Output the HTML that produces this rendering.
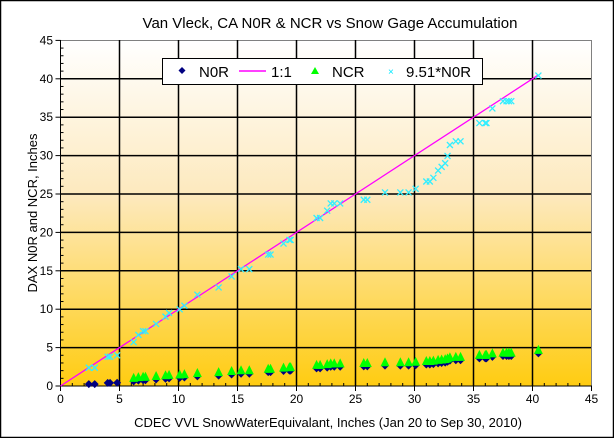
<!DOCTYPE html>
<html><head><meta charset="utf-8"><style>
html,body{margin:0;padding:0;background:#fff}
svg{display:block;font-family:"Liberation Sans",Arial,sans-serif}
</style></head><body>
<svg id="s" width="614" height="438" viewBox="0 0 614 438" xmlns="http://www.w3.org/2000/svg">
<defs>
<linearGradient id="g" x1="0" y1="0" x2="0" y2="1">
<stop offset="0" stop-color="#ffffff"/>
<stop offset="0.45" stop-color="#fde9bd"/>
<stop offset="1" stop-color="#ffcc11"/>
</linearGradient>
</defs>
<rect x="0.5" y="0.5" width="613" height="437" fill="#fff" stroke="#000" stroke-width="1.5"/>
<rect x="60.5" y="40.5" width="531" height="345.5" fill="url(#g)" stroke="#808080"/>
<g id="grid" stroke="#000" stroke-width="1.5"></g>
<g id="ticks" stroke="#000" stroke-width="1"></g>
<line x1="60.5" y1="40" x2="60.5" y2="386" stroke="#000"/>
<line x1="60" y1="386" x2="592" y2="386" stroke="#000"/>
<g id="data"></g>
<g id="labels" font-size="12" fill="#000"></g>
<text x="330" y="28" font-size="15" text-anchor="middle">Van Vleck, CA N0R &amp; NCR  vs Snow Gage Accumulation</text>
<text x="328" y="427" font-size="13" text-anchor="middle">CDEC VVL SnowWaterEquivalant, Inches (Jan 20 to Sep 30, 2010)</text>
<text transform="translate(37,213) rotate(-90)" font-size="13" text-anchor="middle">DAX N0R and NCR, Inches</text>
<rect x="162.5" y="58.5" width="320" height="26" fill="#fff" stroke="#000"/>
<polygon points="182,67 185.5,70.5 182,74 178.5,70.5" fill="#000080"/>
<text x="199" y="77" font-size="15">N0R</text>
<line x1="239" y1="71" x2="266" y2="71" stroke="#ff00ff" stroke-width="1.5"/>
<text x="271" y="77" font-size="15">1:1</text>
<polygon points="315,67 319,74 311,74" fill="#00ff00"/>
<text x="332" y="77" font-size="15">NCR</text>
<text x="388" y="75" font-size="10" fill="#00e8ff">×</text>
<text x="406" y="77" font-size="15">9.51*N0R</text>
</svg>
<script>
var X0=60.5,SX=11.8,Y0=386,SY=7.68,ns="http://www.w3.org/2000/svg";
function px(x){return X0+x*SX}function py(y){return Y0-y*SY}
function el(p,t,a){var e=document.createElementNS(ns,t);for(var k in a)e.setAttribute(k,a[k]);document.getElementById(p).appendChild(e);return e}
for(var i=5;i<45;i+=5){el("grid","line",{x1:px(i),y1:40,x2:px(i),y2:386});el("grid","line",{x1:60,y1:py(i),x2:591,y2:py(i)});}
for(var i=0;i<=45;i++){
el("ticks","line",{x1:px(i),y1:386,x2:px(i),y2:386+(i%5==0?5:0)});
if(i%5)el("ticks","line",{x1:px(i),y1:386,x2:px(i),y2:383});
el("ticks","line",{x1:60.5-(i%5==0?5:0),y1:py(i),x2:60.5+(i%5?3:0),y2:py(i)});}
for(var i=0;i<=45;i+=5){var t=el("labels","text",{x:px(i),y:403,"text-anchor":"middle"});t.textContent=i;
var t2=el("labels","text",{x:53,y:py(i)+4,"text-anchor":"end"});t2.textContent=i;}
var d=[[2.4,.25],[2.9,.25],[4,.4],[4.2,.4],[4.8,.42],[6.2,.6],[6.6,.7],[7,.75],[7.2,.75],[8.1,.85],[8.9,.95],[9.2,1],[10.1,1.05],[10.5,1.1],[11.6,1.25],[13.4,1.35],[14.5,1.5],[15.3,1.6],[16,1.6],[17.6,1.8],[17.8,1.8],[18.9,1.95],[19.4,2],[19.5,2],[21.7,2.3],[22,2.3],[22.6,2.4],[22.9,2.5],[23.2,2.5],[23.7,2.5],[25.7,2.55],[26,2.55],[27.5,2.65],[28.8,2.65],[29.5,2.65],[30.1,2.7],[31,2.8],[31.3,2.8],[31.6,2.85],[32,2.95],[32.3,3],[32.6,3.05],[32.8,3.15],[33,3.3],[33.5,3.35],[33.9,3.35],[35.5,3.6],[36,3.6],[36.1,3.6],[36.6,3.8],[37.5,3.9],[37.8,3.9],[38,3.9],[38.2,3.9],[40.5,4.25]];
el("data","line",{x1:px(0),y1:py(0),x2:px(40.5),y2:py(40.5),stroke:"#ff00ff","stroke-width":1.3});
d.forEach(function(p){var x=px(p[0]),y=py(p[1]);
el("data","polygon",{points:(x)+","+(y-4)+" "+(x+4)+","+y+" "+x+","+(y+4)+" "+(x-4)+","+y,fill:"#000080"});});
d.forEach(function(p){if(p[0]<6)return;var x=px(p[0]),y=py(p[1]+0.45);
el("data","polygon",{points:x+","+(y-5)+" "+(x+4.5)+","+(y+4)+" "+(x-4.5)+","+(y+4),fill:"#00ff00"});});
d.forEach(function(p){var x=px(p[0]),y=py(p[1]*9.51);
el("data","path",{d:"M"+(x-3)+","+(y-3)+"L"+(x+3)+","+(y+3)+"M"+(x+3)+","+(y-3)+"L"+(x-3)+","+(y+3),stroke:"#33eeff","stroke-width":1.3});});
</script>
</body></html>
